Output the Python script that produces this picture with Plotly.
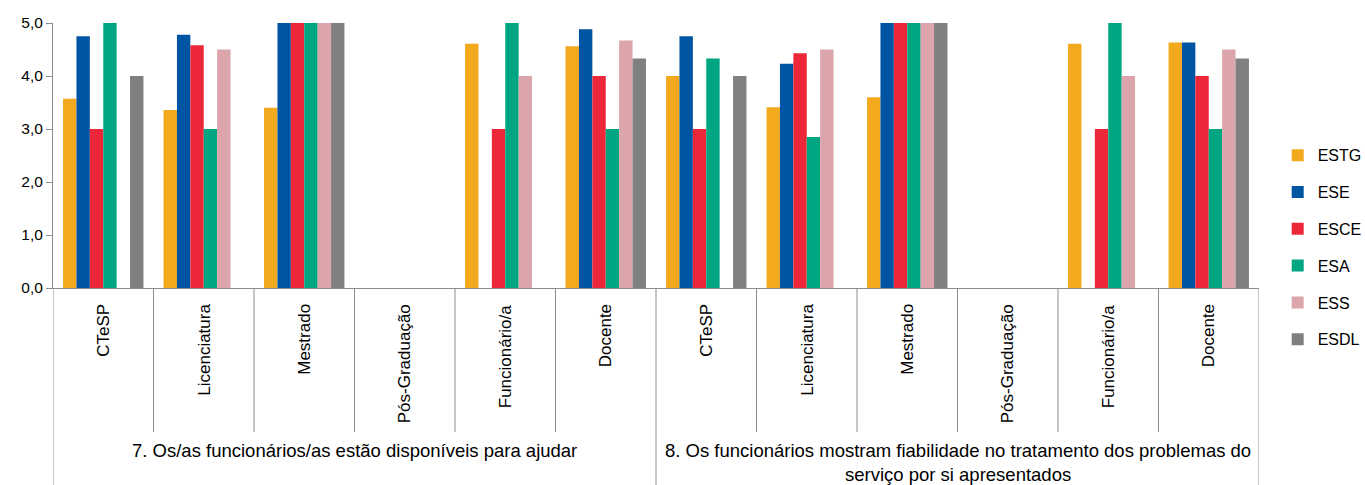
import plotly.graph_objects as go

# Respondent categories (repeated under each question)
categories = ["CTeSP", "Licenciatura", "Mestrado", "Pós-Graduação", "Funcionário/a", "Docente"]
questions = [
    "7. Os/as funcionários/as estão disponíveis para ajudar",
    "8. Os funcionários mostram fiabilidade no tratamento dos problemas do<br>serviço por si apresentados",
]

# Mean scores per school, 6 categories for question 7 followed by 6 for question 8
ESTG = [3.57, 3.36, 3.40, None, 4.61, 4.56, 4.00, 3.41, 3.60, None, 4.61, 4.63]
ESE = [4.75, 4.78, 5.00, None, None, 4.88, 4.75, 4.23, 5.00, None, None, 4.63]
ESCE = [3.00, 4.58, 5.00, None, 3.00, 4.00, 3.00, 4.43, 5.00, None, 3.00, 4.00]
ESA = [5.00, 3.00, 5.00, None, 5.00, 3.00, 4.33, 2.85, 5.00, None, 5.00, 3.00]
ESS = [None, 4.50, 5.00, None, 4.00, 4.67, None, 4.50, 5.00, None, 4.00, 4.50]
ESDL = [4.00, None, 5.00, None, None, 4.33, 4.00, None, 5.00, None, None, 4.33]

schools = ["ESTG", "ESE", "ESCE", "ESA", "ESS", "ESDL"]
series = [ESTG, ESE, ESCE, ESA, ESS, ESDL]
colors = ["#F2A91E", "#0054A4", "#EC273A", "#00A682", "#DBA5AB", "#808080"]

labels = categories * len(questions)
pos = list(range(len(labels)))

fig = go.Figure()
for name, vals, col in zip(schools, series, colors):
    fig.add_trace(go.Bar(
        x=pos, y=vals, name=name, legendgroup=name,
        marker=dict(color=col, line=dict(width=0)),
    ))

axis_color = "#8C8C8C"
family = "Liberation Sans, Arial, sans-serif"
cat_font = dict(family=family, size=17, color="#000000")
q_font = dict(family=family, size=18.5, color="#000000")
tick_font = dict(family=family, size=15.5, color="#000000")
legend_font = dict(family=family, size=16, color="#000000")

annotations = []
shapes = []
# Inner category labels (rotated) and dividers between categories
for i, lab in enumerate(labels):
    annotations.append(dict(
        x=i, y=0, xref="x", yref="paper", text=lab, showarrow=False,
        textangle=-90, xanchor="center", yanchor="top", yshift=-14, font=cat_font,
    ))
n_cat = len(categories)
for i in range(len(labels) + 1):
    outer = i % n_cat == 0
    shapes.append(dict(
        type="line", xref="x", yref="paper", x0=i - 0.5, x1=i - 0.5,
        y0=0, y1=-0.75 if outer else -0.543,
        line=dict(color=axis_color, width=1),
    ))
# Question labels under each block of categories
for q, text in enumerate(questions):
    annotations.append(dict(
        x=q * n_cat + (n_cat - 1) / 2, y=0, xref="x", yref="paper", text=text,
        showarrow=False, xanchor="center", yanchor="top", yshift=-150, font=q_font,
    ))

fig.update_layout(
    width=1365, height=485,
    margin=dict(l=53, r=106, t=23, b=197, autoexpand=False),
    paper_bgcolor="white", plot_bgcolor="white",
    barmode="group", bargap=0.2, bargroupgap=0,
    separators=",.",
    font=cat_font,
    showlegend=True,
    legend=dict(
        x=1.0155, y=0.565, xanchor="left", yanchor="top",
        font=legend_font, tracegroupgap=13, itemwidth=30,
    ),
    xaxis=dict(
        range=[-0.5, len(labels) - 0.5], showticklabels=False, ticks="",
        showgrid=False, zeroline=False, showline=True, linecolor=axis_color, linewidth=1,
    ),
    yaxis=dict(
        range=[0, 5], dtick=1, tick0=0, tickformat=".1f",
        showgrid=False, zeroline=False, showline=True, linecolor=axis_color, linewidth=1,
        ticks="outside", ticklen=6, tickcolor=axis_color, tickfont=tick_font,
    ),
    annotations=annotations,
    shapes=shapes,
)

fig.write_html("out.html")
